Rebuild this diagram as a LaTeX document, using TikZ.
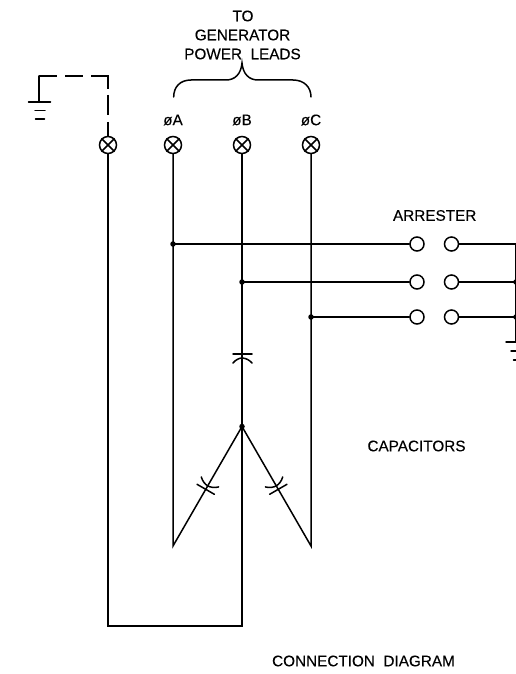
\documentclass[tikz,border=0pt]{standalone}
\usepackage{fontspec}
\setmainfont[FakeBold=0.25]{Liberation Sans}
\begin{document}
\begin{tikzpicture}[x=1pt,y=-1pt,
  wire/.style={line width=1.5pt,line cap=round,line join=miter},
  lbl/.style={font=\fontsize{15.3}{15.3}\selectfont,inner sep=0pt,anchor=center},
  term/.style={circle,draw,line width=1.5pt,minimum size=17pt,inner sep=0pt,fill=white},
  gap/.style={circle,draw,line width=1.5pt,minimum size=14pt,inner sep=0pt,fill=white},
  dot/.style={circle,fill=black,minimum size=5.5pt,inner sep=0pt},
  capcurve/.style={wire}]
\useasboundingbox (0,0) rectangle (516,674);
% coordinates
\coordinate (gtop) at (39,76);
\coordinate (gbot) at (39,102);
\coordinate (dashcorner) at (108,76);
\coordinate (n0top) at (108,136);
\coordinate (botl) at (108,626);
\coordinate (botr) at (242,626);
\coordinate (tipa) at (173,546);
\coordinate (tipc) at (311,546);
\node[dot] (star) at (242,426.5) {};
\node[dot] (da) at (173,244) {};
\node[dot] (db) at (242,282) {};
\node[dot] (dc) at (311,317) {};
\node[term] (t0) at (108,145) {};
\node[term] (ta) at (173,145) {};
\node[term] (tb) at (242,145) {};
\node[term] (tc) at (311,145) {};
\foreach \n in {t0,ta,tb,tc}{
  \draw[line width=1.5pt] (\n.north west)--(\n.south east) (\n.north east)--(\n.south west);
}
\node[gap] (a1) at (417,244) {};
\node[gap] (a2) at (451.5,244) {};
\node[gap] (b1) at (417,282) {};
\node[gap] (b2) at (451.5,282) {};
\node[gap] (c1) at (417,317) {};
\node[gap] (c2) at (451.5,317) {};
\coordinate (ra) at (516,244);
\node[dot] (rb) at (516,282) {};
\node[dot] (rc) at (516,317) {};
\coordinate (rg) at (516,342);
% wires
\draw[wire] (t0.south) -- (botl) -- (botr) -- (tb.south);
\draw[wire] (ta.south) -- (tipa) -- (star.center) -- (tipc) -- (tc.south);
\draw[wire] (da.center) -- (a1.west);
\draw[wire] (db.center) -- (b1.west);
\draw[wire] (dc.center) -- (c1.west);
\draw[wire] (a2.east) -- (ra);
\draw[wire] (b2.east) -- (rb.center);
\draw[wire] (c2.east) -- (rc.center);
\draw[line width=2.4pt] (ra) -- (rg);
% ground right
\draw[wire] (506,342) -- (516,342);
\draw[wire] (511,351) -- (516,351);
\draw[wire] (513.5,360) -- (516,360);
% dashed to ground
\draw[wire,line cap=butt,dash pattern=on 18pt off 8pt on 18pt off 8pt on 30pt off 6pt on 20pt off 7pt on 14pt off 50pt] (gtop) -- (dashcorner) -- (n0top);
% ground left
\draw[wire] (gtop) -- (gbot);
\draw[wire] (28.5,102) -- (50.5,102);
\draw[wire] (35,110.5) -- (45,110.5);
\draw[wire] (35.5,119) -- (44.5,119);
% bracket
\coordinate (bl) at (173.7,97);
\coordinate (br) at (311,97);
\coordinate (bp) at (242,63);
\draw[wire] (bl) .. controls (173.7,87) and (180,80) .. (191,80) -- (226,80) .. controls (235,80) and (241,74) .. (bp)
  .. controls (243,74) and (249,80) .. (258,80) -- (293,80) .. controls (304,80) and (311,87) .. (br);
% capacitors
\draw[wire] (233,354) -- (252,354);
\draw[wire] (233,363) .. controls (235.5,360) and (239,358) .. (242,358) .. controls (245.5,358) and (249.5,360) .. (252,363);
\begin{scope}[shift={(205.7,489.3)},rotate=-30]
 \draw[wire] (-10,0) -- (10,0);
 \draw[wire] (-10,-8.5) .. controls (-7,-5.5) and (-3,-4) .. (0,-4) .. controls (3,-4) and (7,-5.5) .. (10,-8.5);
\end{scope}
\begin{scope}[shift={(278.3,489.3)},rotate=30]
 \draw[wire] (-10,0) -- (10,0);
 \draw[wire] (-10,-8.5) .. controls (-7,-5.5) and (-3,-4) .. (0,-4) .. controls (3,-4) and (7,-5.5) .. (10,-8.5);
\end{scope}
% labels
\node[lbl] (l1) at (243,16) {TO};
\node[lbl] (l2) at (242.5,35) {GENERATOR};
\node[lbl] (l3) at (242.5,54) {POWER\ \ LEADS};
\node[lbl] (pa) at (173,120) {øA};
\node[lbl] (pb) at (242,120) {øB};
\node[lbl] (pc) at (311,120) {øC};
\node[lbl] (arr) at (434.7,215.5) {ARRESTER};
\node[lbl] (cap) at (416.5,446) {CAPACITORS};
\node[lbl] (cd) at (363.5,661) {CONNECTION\ \ DIAGRAM};
\end{tikzpicture}
\end{document}
